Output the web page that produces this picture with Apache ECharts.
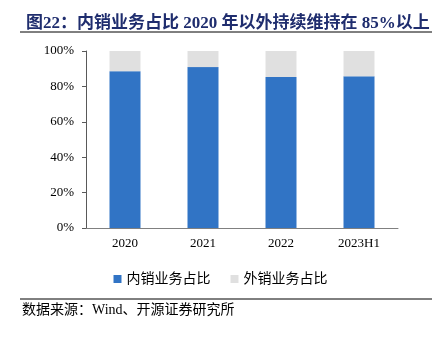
<!DOCTYPE html>
<html><head><meta charset="utf-8">
<script src="https://cdn.jsdelivr.net/npm/echarts@6/dist/echarts.min.js"></script>
<style>html,body{margin:0;padding:0;background:#fff}#c{width:441px;height:342px}</style>
</head><body><div id="c"></div>
<script>
var categories = ['2020', '2021', '2022', '2023H1'];
var domestic = [88.6, 90.9, 85.3, 85.7];
var overseas = [11.4, 9.1, 14.7, 14.3];
var seriesNames = ['内销业务占比', '外销业务占比'];
var yTicks = [0, 20, 40, 60, 80, 100];

var chart = echarts.init(document.getElementById('c'), null, {renderer: 'canvas'});
var serif = '"Liberation Serif", "Times New Roman", serif';
var cjk = '"Liberation Serif", "Noto Sans CJK SC", serif';
chart.setOption({
  animation: false,
  backgroundColor: '#fff',
  title: {
    text: '图22：内销业务占比 2020 年以外持续维持在 85%以上',
    left: 21, top: 10,
    textStyle: {color: '#1F2D6E', fontSize: 17, fontWeight: 'bold', fontFamily: cjk}
  },
  graphic: [
    {type: 'line', shape: {x1: 20, y1: 32, x2: 432, y2: 32}, style: {stroke: '#000', lineWidth: 1}},
    {type: 'line', shape: {x1: 20, y1: 299, x2: 432, y2: 299}, style: {stroke: '#000', lineWidth: 1}},
    {type: 'text', left: 22, top: 303, style: {text: '数据来源：Wind、开源证券研究所', fill: '#000', font: '14px ' + cjk}}
  ],
  legend: {
    top: 267, left: 'center',
    itemWidth: 8, itemHeight: 8, itemGap: 20, icon: 'rect',
    textStyle: {fontSize: 14, color: '#000', fontFamily: cjk},
    data: seriesNames
  },
  grid: {left: 86, right: 43, top: 51, bottom: 114},
  xAxis: {
    type: 'category', data: categories,
    axisLine: {lineStyle: {color: '#808080'}},
    axisTick: {inside: true, length: 4, lineStyle: {color: '#808080'}},
    axisLabel: {color: '#000', fontSize: 13, fontFamily: serif, margin: 9}
  },
  yAxis: {
    type: 'value', min: yTicks[0], max: yTicks[yTicks.length - 1], interval: 20,
    splitLine: {show: false},
    axisLine: {show: true, lineStyle: {color: '#595959'}},
    axisTick: {show: true, length: 4, lineStyle: {color: '#595959'}},
    axisLabel: {color: '#000', fontSize: 13, fontFamily: serif, margin: 12, formatter: '{value}%'}
  },
  series: [
    {name: seriesNames[0], type: 'bar', stack: 's', data: domestic, barWidth: 31, itemStyle: {color: '#3174C5'}},
    {name: seriesNames[1], type: 'bar', stack: 's', data: overseas, barWidth: 31, itemStyle: {color: '#E0E0E0'}}
  ]
});
</script></body></html>
